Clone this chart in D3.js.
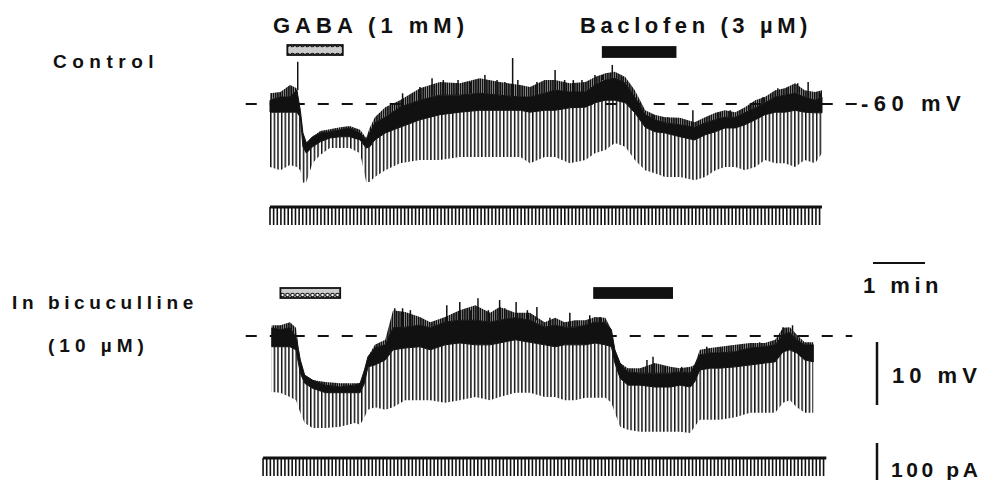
<html lang="en">
<head>
<meta charset="UTF-8">
<title>GABA and baclofen responses</title>
<script src="https://d3js.org/d3.v7.min.js"></script>
<style>
  body { margin: 0; background: #fff; }
  text { font-family: "Liberation Sans", Arial, sans-serif; font-weight: bold; fill: #111; }
</style>
</head>
<body>
<script>
// ---- Control: readings of the voltage trace (time in s, potential in mV) ----
const ctrlTime = [0,12,23,31,35,38,42,49,58,69,81,92,104,111,115,121,133,150,173,196,219,242,265,289,300,317,329,346,364,375,387,398,410,421,433,444,456,473,490,502,514,525,537,548,560,571,583,594,606,617,629,637]
const ctrlNoiseTop = [-58.3,-58.1,-57.0,-57.5,-61.0,-64.6,-66.2,-65.2,-64.3,-64.0,-63.7,-63.5,-64.1,-65.4,-63.8,-62.1,-60.5,-59.4,-57.5,-56.5,-56.7,-55.9,-56.5,-57.0,-57.3,-56.2,-56.2,-56.7,-56.5,-55.7,-55.1,-54.9,-55.7,-57.8,-61.0,-61.7,-62.1,-62.2,-62.9,-62.1,-61.4,-61.0,-61.3,-60.5,-59.4,-58.9,-57.8,-57.5,-56.7,-57.8,-58.1,-57.8]
const ctrlBandTop = [-59.4,-58.9,-58.9,-57.8,-61.0,-64.6,-66.2,-65.2,-64.6,-64.4,-64.1,-63.8,-64.6,-65.7,-64.6,-63.0,-62.1,-60.5,-59.4,-58.6,-58.6,-58.3,-58.6,-58.9,-58.9,-58.3,-57.8,-58.1,-58.1,-57.0,-56.2,-55.9,-56.7,-58.9,-61.7,-62.5,-63.0,-63.3,-63.7,-63.0,-62.5,-62.1,-62.1,-61.4,-60.6,-59.8,-58.9,-58.6,-58.3,-58.9,-59.4,-58.9]
const ctrlBandBottom = [-61.3,-61.3,-61.3,-61.3,-62.1,-66.8,-67.8,-66.8,-66.0,-65.4,-65.2,-65.2,-65.7,-67.0,-66.8,-65.7,-64.6,-63.7,-62.5,-61.7,-61.3,-61.0,-61.0,-61.0,-61.3,-61.0,-61.0,-60.6,-60.5,-59.8,-59.4,-59.4,-59.8,-61.4,-63.7,-64.4,-64.6,-65.2,-65.7,-64.9,-64.4,-63.8,-63.8,-63.3,-62.5,-61.7,-61.3,-61.3,-61.0,-61.3,-61.4,-61.4]
const ctrlPulseBottom = [-70.0,-70.5,-69.7,-70.0,-70.5,-72.5,-72.4,-69.4,-68.1,-67.0,-67.0,-67.0,-67.8,-72.4,-72.4,-71.6,-70.5,-69.4,-68.9,-68.9,-68.4,-68.4,-68.4,-68.4,-69.4,-68.4,-68.4,-69.4,-68.9,-67.8,-67.3,-66.2,-66.8,-68.9,-70.5,-71.0,-71.6,-71.6,-72.1,-71.6,-70.5,-70.0,-70.0,-70.5,-70.0,-68.9,-69.4,-69.4,-70.0,-68.9,-69.4,-67.8]
const ctrlSpikeTime = [32,153,173,187,200,217,231,248,262,271,280,286,308,329,340,350,360,375,384,395,406,412,430,442,459,488,517,531,554,569,586,598,609,621,635]
const ctrlSpikePeak = [-53.3,-58.3,-57.3,-55.9,-56.2,-56.2,-56.5,-55.4,-56.2,-56.5,-52.7,-56.2,-56.5,-54.6,-56.2,-56.2,-56.2,-55.4,-55.4,-53.8,-55.7,-56.5,-61.3,-61.7,-62.1,-61.0,-61.4,-61.0,-60.2,-58.9,-57.5,-57.3,-56.7,-56.5,-58.3]

// ---- In bicuculline (10 uM) ----
const bicTime = [2,12,23,30,35,40,49,64,81,98,104,109,113,121,133,142,156,173,185,202,219,237,254,265,283,300,317,329,340,352,364,375,387,394,398,404,413,427,444,462,473,485,490,496,508,519,537,554,571,583,592,600,608,617,627]
const bicNoiseTop = [-58.3,-58.3,-57.8,-58.7,-63.8,-66.2,-67.0,-67.3,-67.5,-67.5,-67.5,-65.4,-63.3,-61.4,-60.6,-55.9,-56.2,-57.0,-57.8,-57.0,-55.9,-55.1,-56.3,-55.4,-56.3,-56.3,-57.8,-57.1,-57.8,-57.5,-57.5,-57.0,-57.1,-59.0,-62.2,-64.3,-65.1,-65.1,-64.3,-64.9,-65.1,-64.9,-64.6,-62.2,-61.9,-61.7,-61.4,-61.1,-61.1,-60.6,-58.7,-58.6,-59.8,-61.0,-61.0]
const bicBandTop = [-58.7,-59.0,-58.7,-60.2,-63.8,-66.2,-67.0,-67.8,-68.1,-67.8,-67.5,-65.4,-63.3,-61.9,-61.4,-58.7,-58.6,-58.3,-58.7,-57.8,-57.5,-57.5,-57.8,-57.5,-57.1,-57.5,-58.6,-58.3,-58.6,-58.6,-58.3,-57.8,-57.9,-59.0,-62.2,-64.3,-65.7,-65.9,-65.9,-65.9,-65.7,-65.9,-64.6,-63.0,-62.7,-62.7,-62.5,-61.9,-61.7,-61.4,-59.8,-59.4,-60.6,-61.4,-61.4]
const bicBandBottom = [-61.7,-61.7,-61.7,-62.2,-65.9,-67.5,-68.3,-69.0,-69.0,-69.0,-69.0,-67.5,-64.9,-64.6,-63.8,-62.2,-61.9,-61.7,-62.2,-61.4,-61.1,-61.4,-61.4,-61.1,-60.6,-61.0,-61.4,-61.7,-61.4,-61.4,-61.4,-61.1,-61.4,-61.7,-64.3,-66.7,-67.8,-67.8,-68.1,-68.1,-67.8,-68.1,-67.3,-65.4,-65.1,-65.1,-64.9,-64.6,-64.3,-64.1,-62.5,-62.2,-62.7,-63.8,-64.1]
const bicPulseBottom = [-68.9,-69.0,-69.7,-70.2,-72.2,-73.8,-74.6,-74.6,-74.4,-73.8,-74.1,-72.9,-71.7,-71.3,-71.7,-71.3,-70.2,-70.2,-70.2,-70.6,-70.2,-69.7,-70.2,-69.7,-69.0,-69.0,-69.7,-69.7,-70.2,-70.2,-69.8,-69.8,-69.8,-70.6,-72.2,-74.4,-74.9,-75.2,-75.2,-75.2,-75.2,-75.4,-74.4,-73.3,-73.3,-73.3,-72.9,-72.2,-72.2,-72.2,-70.6,-70.2,-71.3,-72.2,-72.2]
const bicSpikeTime = [144,153,162,204,219,231,240,252,265,271,284,297,308,323,346,369,381,387,435,442,456,475,504,522,542,565,592,603]
const bicSpikePeak = [-55.6,-55.6,-55.9,-55.1,-54.6,-55.9,-54.0,-55.9,-54.3,-55.6,-54.6,-55.9,-55.4,-57.1,-56.3,-56.7,-57.0,-57.5,-63.8,-63.3,-64.9,-64.9,-61.7,-61.9,-61.7,-61.0,-58.6,-58.3]

// drug applications, [start, end] in s
const ctrlGaba = [20, 84]
const ctrlBaclofen = [384, 468]
const bicGaba = [12, 81]
const bicBaclofen = [374, 464]

// current traces (voltage-clamp command pulses)
const ctrlCurrentSpan = [0, 637]
const bicCurrentSpan = [-8, 642]
const pulseInterval = 4.2     // s
const currentStep = -45       // pA
const restLevel = -60         // mV, dashed reference
const ctrlRefSpan = [-28, 680]
const bicRefSpan = [-28, 672]

var width = 991
var height = 480
var svg = d3.select('body').append('svg')
  .attr('width', width)
  .attr('height', height)

var x = d3.scaleLinear().domain([0, 637]).range([270, 822])
var yCtrl = d3.scaleLinear().domain([-60, -70]).range([104, 167])
var yBic = d3.scaleLinear().domain([-60, -70]).range([336, 399])
var iCtrl = d3.scaleLinear().domain([0, -100]).range([207, 247])
var iBic = d3.scaleLinear().domain([0, -100]).range([458, 498])

var defs = svg.append('defs')
var step = x(pulseInterval) - x(0)
var pp = defs.append('pattern').attr('id', 'pulses')
  .attr('patternUnits', 'userSpaceOnUse')
  .attr('x', x(0)).attr('width', step).attr('height', 10)
pp.append('rect').attr('width', 1.5).attr('height', 10).attr('fill', '#111')
var np = defs.append('pattern').attr('id', 'noise')
  .attr('patternUnits', 'userSpaceOnUse')
  .attr('width', 2.2).attr('height', 10)
np.append('rect').attr('width', 1.8).attr('height', 10).attr('fill', '#111')
var hp = defs.append('pattern').attr('id', 'hatch')
  .attr('patternUnits', 'userSpaceOnUse')
  .attr('width', 5).attr('height', 10)
hp.append('rect').attr('width', 5).attr('height', 10).attr('fill', '#ccc')
hp.append('circle').attr('cx', 2.5).attr('cy', 5).attr('r', 1.8)
  .attr('fill', '#fff').attr('stroke', '#111').attr('stroke-width', 1.1)

function refLine(y, span) {
  svg.append('line')
    .attr('x1', x(span[0])).attr('x2', x(span[1]))
    .attr('y1', y(restLevel)).attr('y2', y(restLevel))
    .attr('stroke', '#111').attr('stroke-width', 2)
    .attr('stroke-dasharray', '11,13')
}

function drawTrace(y, time, noise, top, bottom, pulse, spT, spV) {
  var rows = time.map((t, i) => ({ t: t, noise: noise[i], top: top[i], bottom: bottom[i], pulse: pulse[i] }))
  var area = (a, b) => d3.area().x(d => x(d.t)).y0(d => y(d[a])).y1(d => y(d[b]))
  svg.append('path').datum(rows).attr('d', area('bottom', 'pulse')).attr('fill', 'url(#pulses)')
  svg.append('path').datum(rows).attr('d', area('top', 'noise')).attr('fill', 'url(#noise)')
  svg.append('path').datum(rows).attr('d', area('bottom', 'top')).attr('fill', '#111')
    .attr('stroke', '#111').attr('stroke-width', 1)
  // isolated spikes riding on the trace
  var topAt = t => d3.least(rows, d => Math.abs(d.t - t)).top
  svg.append('g').selectAll('line').data(spT).enter().append('line')
    .attr('x1', d => x(d)).attr('x2', d => x(d))
    .attr('y1', d => y(topAt(d))).attr('y2', (d, i) => y(spV[i]))
    .attr('stroke', '#111').attr('stroke-width', 1.5)
}

function drawCurrent(iy, span) {
  var ticks = d3.range(span[0], span[1], pulseInterval)
  svg.append('g').selectAll('line').data(ticks).enter().append('line')
    .attr('x1', d => x(d)).attr('x2', d => x(d))
    .attr('y1', iy(0)).attr('y2', iy(currentStep))
    .attr('stroke', '#111').attr('stroke-width', 1.6)
  svg.append('line')
    .attr('x1', x(span[0])).attr('x2', x(span[1]))
    .attr('y1', iy(0)).attr('y2', iy(0))
    .attr('stroke', '#111').attr('stroke-width', 3)
}

function drugBar(app, yTop, hatched) {
  svg.append('rect')
    .attr('x', x(app[0])).attr('y', yTop)
    .attr('width', x(app[1]) - x(app[0])).attr('height', 10)
    .attr('fill', hatched ? 'url(#hatch)' : '#111')
    .attr('stroke', '#111').attr('stroke-width', 1.8)
}

refLine(yCtrl, ctrlRefSpan)
refLine(yBic, bicRefSpan)
drawTrace(yCtrl, ctrlTime, ctrlNoiseTop, ctrlBandTop, ctrlBandBottom, ctrlPulseBottom, ctrlSpikeTime, ctrlSpikePeak)
drawTrace(yBic, bicTime, bicNoiseTop, bicBandTop, bicBandBottom, bicPulseBottom, bicSpikeTime, bicSpikePeak)
drawCurrent(iCtrl, ctrlCurrentSpan)
drawCurrent(iBic, bicCurrentSpan)

drugBar(ctrlGaba, 45, true)
drugBar(ctrlBaclofen, 47, false)
drugBar(bicGaba, 288, true)
drugBar(bicBaclofen, 288, false)

// scale bars: 1 min, 10 mV, 100 pA
svg.append('line').attr('x1', 873).attr('x2', 873 + x(60) - x(0))
  .attr('y1', 263).attr('y2', 263).attr('stroke', '#111').attr('stroke-width', 2)
svg.append('line').attr('x1', 877).attr('x2', 877)
  .attr('y1', 342).attr('y2', 342 + yBic(-70) - yBic(-60)).attr('stroke', '#111').attr('stroke-width', 2.5)
svg.append('line').attr('x1', 877).attr('x2', 877)
  .attr('y1', 443).attr('y2', 443 + iBic(-100) - iBic(0)).attr('stroke', '#111').attr('stroke-width', 2.5)

var labels = [
  { text: 'GABA (1 mM)', x: 273, y: 33, size: 22, ls: 5 },
  { text: 'Baclofen (3 \u00b5M)', x: 580, y: 33, size: 22, ls: 4.6 },
  { text: 'Control', x: 53, y: 68, size: 19, ls: 5.5 },
  { text: 'In bicuculline', x: 12, y: 309, size: 19, ls: 4.6 },
  { text: '(10 \u00b5M)', x: 48, y: 352, size: 19, ls: 5 },
  { text: '-60 mV', x: 861, y: 111, size: 22, ls: 5.5 },
  { text: '1 min', x: 863, y: 293, size: 22, ls: 4.5 },
  { text: '10 mV', x: 892, y: 383, size: 22, ls: 5 },
  { text: '100 pA', x: 891, y: 477, size: 21, ls: 3.6 }
]
svg.append('g').selectAll('text').data(labels).enter().append('text')
  .attr('x', d => d.x).attr('y', d => d.y)
  .attr('font-size', d => d.size)
  .attr('letter-spacing', d => d.ls)
  .text(d => d.text)
</script>
</body>
</html>
